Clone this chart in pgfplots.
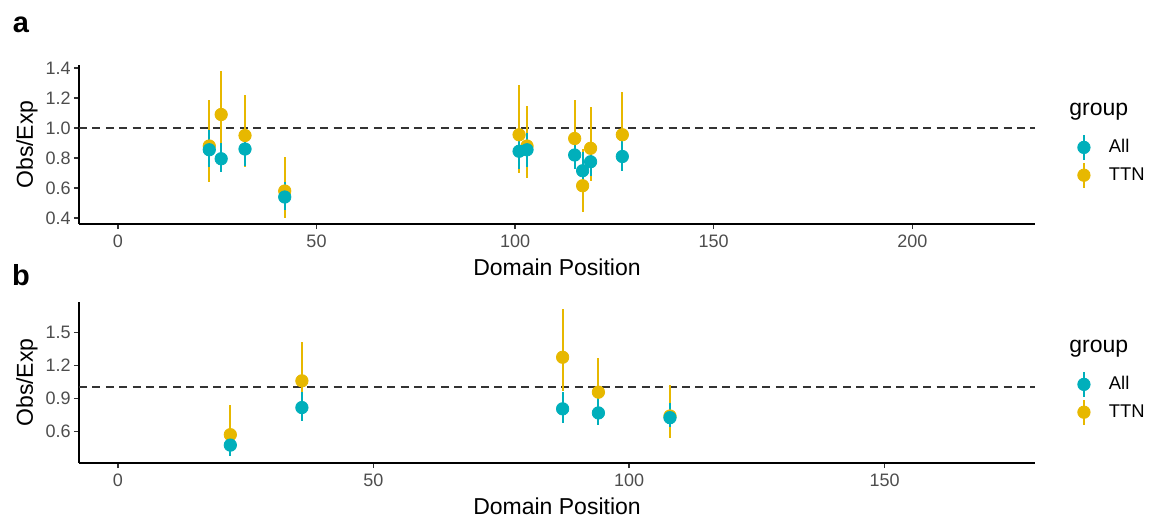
\documentclass[border=0pt]{standalone}
\usepackage{fontspec}
\setmainfont{Liberation Sans}
\usepackage{pgfplots}
\usepackage{pgfplotstable}
\pgfplotsset{compat=1.18}
\definecolor{allc}{HTML}{00AFBB}
\definecolor{ttnc}{HTML}{E7B800}
\definecolor{tickgray}{HTML}{4D4D4D}
\definecolor{tickline}{HTML}{333333}

% panel a
\pgfplotstableread{
x y lo hi
23 0.88 0.64 1.19
26 1.09 0.80 1.38
32 0.95 0.74 1.22
42 0.58 0.40 0.81
101 0.955 0.70 1.29
103 0.88 0.67 1.15
115 0.93 0.76 1.19
117 0.615 0.44 0.86
119 0.865 0.65 1.14
127 0.955 0.74 1.24
}\aTTN
\pgfplotstableread{
x y lo hi
23 0.855 0.74 0.985
26 0.795 0.705 0.90
32 0.86 0.75 0.96
42 0.54 0.455 0.64
101 0.845 0.725 0.96
103 0.855 0.74 0.97
115 0.82 0.725 0.92
117 0.715 0.62 0.84
119 0.775 0.68 0.88
127 0.81 0.715 0.93
}\aAll
% panel b
\pgfplotstableread{
x y lo hi
22 0.57 0.47 0.84
36 1.06 0.93 1.41
87 1.275 0.97 1.71
94 0.957 0.85 1.27
108 0.74 0.54 1.02
}\bTTN
\pgfplotstableread{
x y lo hi
22 0.475 0.38 0.56
36 0.817 0.695 0.963
87 0.805 0.675 0.96
94 0.768 0.66 0.90
108 0.725 0.64 0.856
}\bAll

\pgfplotsset{
  ggstyle/.style={
    scale only axis, width=478pt,
    axis x line*=bottom, axis y line*=left,
    axis line style={-, line width=0.9pt, black},
    tick align=outside, major tick length=2.5pt,
    every tick/.style={tickline, line width=0.7pt},
    /pgf/number format/assume math mode=true,
    ticklabel style={font=\fontsize{9}{11}\selectfont, text=tickgray},
    yticklabel style={inner sep=1.5pt, /pgf/number format/.cd, fixed, fixed zerofill, precision=1},
    xticklabel style={inner sep=2.8pt},
    every axis x label/.style={at={(axis description cs:0.5,0)}, yshift=-25.5pt, anchor=base, inner sep=0pt, font=\fontsize{11.5}{13}\selectfont},
    every axis y label/.style={at={(axis description cs:0,0.5)}, xshift=-26pt, rotate=90, anchor=center, font=\fontsize{11.5}{13}\selectfont},
    legend style={draw=none, fill=none, inner sep=0pt, outer sep=0pt, anchor=north west,
      row sep=0.5pt, column sep=3pt,
      nodes={inner sep=1pt, text height=6.6pt, text depth=1.5pt, font=\fontsize{9.2}{11}\selectfont}},
    legend cell align=left,
    clip=false,
    xlabel={Domain Position}, ylabel={Obs/Exp},
  },
  ttnplot/.style={forget plot, only marks, mark=*, mark size=3.1pt, color=ttnc,
    mark options={draw=none, fill=ttnc},
    error bars/.cd, y dir=both, y explicit, error mark=none,
    error bar style={line width=1pt, ttnc}},
  allplot/.style={forget plot, only marks, mark=*, mark size=3.1pt, color=allc,
    mark options={draw=none, fill=allc},
    error bars/.cd, y dir=both, y explicit, error mark=none,
    error bar style={line width=1pt, allc}},
  dashline/.style={forget plot, dash pattern=on 4pt off 2.7pt, line width=1pt, color=black!80},
}
\newcommand{\legimgs}{%
  \addlegendimage{legend image code/.code={\path[draw=none,fill=none] (0,0) -- (17pt,0); \draw[allc, solid, line width=1pt] (8.5pt,-6.2pt) -- (8.5pt,6.2pt); \fill[allc] (8.5pt,0) circle (3.1pt);}}
  \addlegendentry{All}
  \addlegendimage{legend image code/.code={\path[draw=none,fill=none] (0,0) -- (17pt,0); \draw[ttnc, solid, line width=1pt] (8.5pt,-6.2pt) -- (8.5pt,6.2pt); \fill[ttnc] (8.5pt,0) circle (3.1pt);}}
  \addlegendentry{TTN}
}

\begin{document}
\begin{tikzpicture}
\useasboundingbox (0,0) rectangle (576.5pt,-258pt);

\begin{axis}[ggstyle, at={(39.5pt,-112pt)}, anchor=south west, height=79.5pt,
  xmin=-9.8, xmax=230.9, ymin=0.36, ymax=1.42,
  xtick={0,50,100,150,200}, ytick={0.4,0.6,0.8,1.0,1.2,1.4},
  legend style={at={(axis description cs:1.0334,0.566)}}]
\legimgs
\addplot[dashline] coordinates {(-9.8,1) (230.9,1)};
\addplot[ttnplot] table[x=x, y=y, y error plus expr=\thisrow{hi}-\thisrow{y}, y error minus expr=\thisrow{y}-\thisrow{lo}] {\aTTN};
\addplot[allplot] table[x=x, y=y, y error plus expr=\thisrow{hi}-\thisrow{y}, y error minus expr=\thisrow{y}-\thisrow{lo}] {\aAll};
\end{axis}

\begin{axis}[ggstyle, at={(39.5pt,-231.5pt)}, anchor=south west, height=80.5pt,
  xmin=-7.6, xmax=179.4, ymin=0.312, ymax=1.778,
  xtick={0,50,100,150}, ytick={0.6,0.9,1.2,1.5},
  legend style={at={(axis description cs:1.0334,0.5716)}}]
\legimgs
\addplot[dashline] coordinates {(-7.6,1) (179.4,1)};
\addplot[ttnplot] table[x=x, y=y, y error plus expr=\thisrow{hi}-\thisrow{y}, y error minus expr=\thisrow{y}-\thisrow{lo}] {\bTTN};
\addplot[allplot] table[x=x, y=y, y error plus expr=\thisrow{hi}-\thisrow{y}, y error minus expr=\thisrow{y}-\thisrow{lo}] {\bAll};
\end{axis}

\node[anchor=base west, font=\fontsize{11.5}{13}\selectfont, inner sep=0pt] at (534.5pt,-57.5pt) {group};
\node[anchor=base west, font=\fontsize{11.5}{13}\selectfont, inner sep=0pt] at (534.5pt,-176pt) {group};
\node[anchor=base, font=\bfseries\fontsize{14.5}{16}\selectfont, inner sep=0pt] at (10.5pt,-16.3pt) {a};
\node[anchor=base, font=\bfseries\fontsize{14.5}{16}\selectfont, inner sep=0pt] at (10.5pt,-142.8pt) {b};
\end{tikzpicture}
\end{document}
